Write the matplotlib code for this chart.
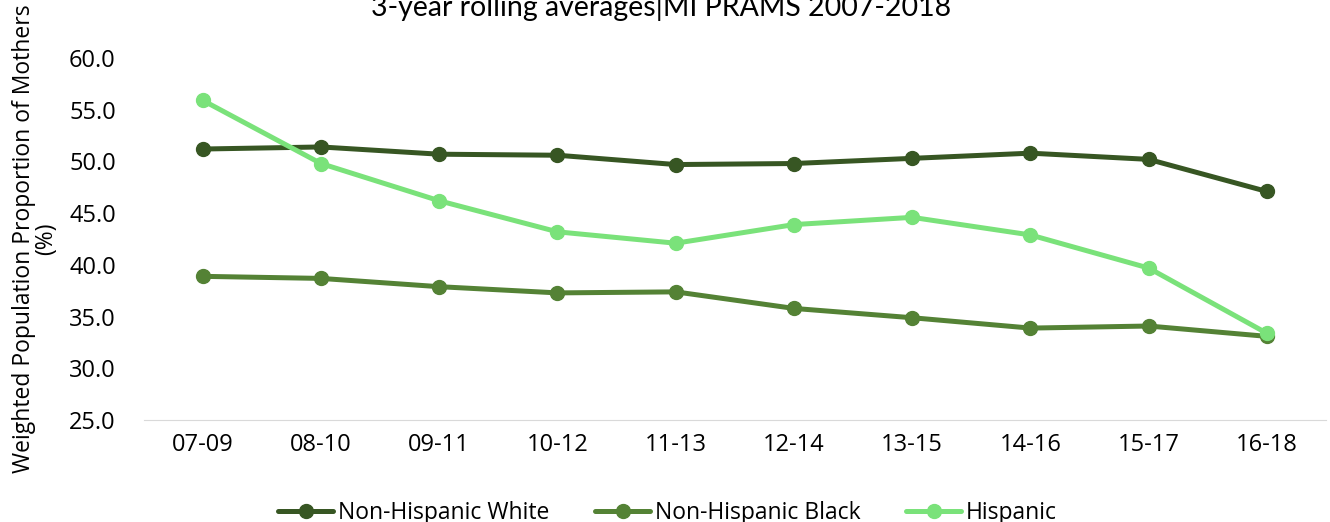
import matplotlib.pyplot as plt

# 3-year rolling windows
periods = ["07-09", "08-10", "09-11", "10-12", "11-13",
           "12-14", "13-15", "14-16", "15-17", "16-18"]

white = [51.2, 51.4, 50.7, 50.6, 49.7, 49.8, 50.3, 50.8, 50.2, 47.1]
black = [38.9, 38.7, 37.9, 37.3, 37.4, 35.8, 34.9, 33.9, 34.1, 33.1]
hispanic = [55.9, 49.8, 46.2, 43.2, 42.1, 43.9, 44.6, 42.9, 39.7, 33.4]

series_names = ["Non-Hispanic White", "Non-Hispanic Black", "Hispanic"]
colors = ["#375623", "#548235", "#7ae27a"]

yticks = [25, 30, 35, 40, 45, 50, 55, 60]

fig = plt.figure(figsize=(13.3, 5.22), dpi=100)
ax = fig.add_axes([0.108, 0.195, 0.889, 0.694])

x = range(len(periods))
for vals, name, c in zip([white, black, hispanic], series_names, colors):
    ax.plot(x, vals, color=c, lw=3.6, marker="o", ms=10, label=name,
            solid_capstyle="round")

ax.set_xlim(-0.5, len(periods) - 0.5)
ax.set_ylim(25, 60)
ax.set_yticks(yticks)
ax.set_yticklabels([f"{v:.1f}" for v in yticks], fontsize=17, family="Open Sans")
ax.set_xticks(list(x))
ax.set_xticklabels(periods, fontsize=17, family="Open Sans")
ax.tick_params(length=0)
ax.tick_params(axis="x", pad=9)
ax.tick_params(axis="y", pad=20)

for s in ["top", "right", "left"]:
    ax.spines[s].set_visible(False)
ax.spines["bottom"].set_color("#d9d9d9")

ax.set_ylabel("Weighted Population Proportion of Mothers\n(%)", fontsize=16.5,
              family="Open Sans", linespacing=0.9)
ax.yaxis.set_label_coords(-0.072, 0.5)

fig.text(0.497, 1 - 7 / 522, "3-year rolling averages|MI PRAMS 2007-2018",
         ha="center", va="center", fontsize=20.5, family="Lato")

ax.legend(loc="center", bbox_to_anchor=(0.443, -0.255), ncol=3, frameon=False,
          prop={"family": "Open Sans", "size": 16.5}, handlelength=2.4,
          handletextpad=0.2, columnspacing=2.0)

fig.savefig("out.png", dpi=100)
